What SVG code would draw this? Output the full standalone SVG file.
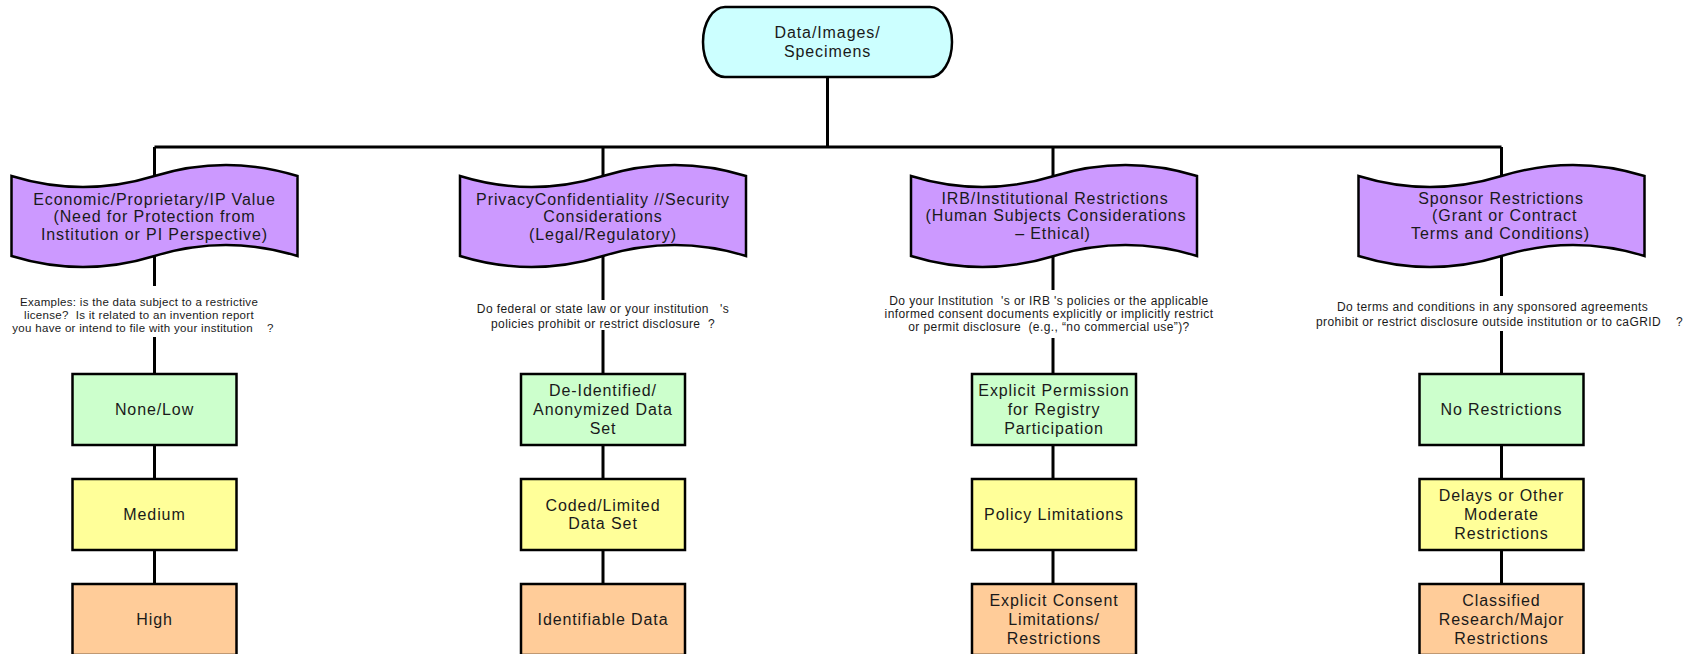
<svg xmlns="http://www.w3.org/2000/svg" width="1697" height="654" viewBox="0 0 1697 654">
<defs>
<style>
.ln{fill:none;stroke:#000;stroke-width:3}
.sh{stroke:#000;stroke-width:2.5}
.term{fill:#ccffff}
.ban{fill:#cc99ff}
.g{fill:#ccffcc}
.y{fill:#ffff99}
.o{fill:#ffcc99}
text{font-family:"Liberation Sans",Arial,sans-serif;fill:#1a1a1a;text-anchor:middle;white-space:pre}
.t{font-size:16px;letter-spacing:0.9px}
.q{font-size:12px;letter-spacing:0.4px}
.q1{font-size:11.5px;letter-spacing:0.3px}
</style>
<path id="banner" d="M0,0 C47.67,14.67 95.33,14.67 143,0 C190.67,-14.67 238.33,-14.67 286,0 L286,80 C238.33,65.33 190.67,65.33 143,80 C95.33,94.67 47.67,94.67 0,80 Z"/>
</defs>
<rect width="1697" height="654" fill="#fff"/>
<g id="connectors" class="ln">
<path d="M827.5,77 V147 M154.5,147 H1501.5"/>
<path d="M154.5,147 V286 M154.5,337 V374 M154.5,445 V479 M154.5,550 V584"/>
<path d="M603,147 V300 M603,330 V374 M603,445 V479 M603,550 V584"/>
<path d="M1053,147 V290 M1053,338 V374 M1053,445 V479 M1053,550 V584"/>
<path d="M1501.5,147 V296 M1501.5,331 V374 M1501.5,445 V479 M1501.5,550 V584"/>
</g>
<g id="root">
<path class="term sh" d="M725,7 H930 A22,35 0 0 1 930,77 H725 A22,35 0 0 1 725,7 Z"/>
<text class="t" x="827.5" y="38.3">Data/Images/</text>
<text class="t" x="827.5" y="56.7">Specimens</text>
</g>
<g id="economic">
<use href="#banner" class="ban sh" transform="translate(11.5,176)"/>
<text class="t" x="154.5" y="204.5">Economic/Proprietary/IP Value</text>
<text class="t" x="154.5" y="222.3">(Need for Protection from</text>
<text class="t" x="154.5" y="240.1">Institution or PI Perspective)</text>
</g>
<g id="privacy">
<use href="#banner" class="ban sh" transform="translate(460,176)"/>
<text class="t" x="603" y="204.5">PrivacyConfidentiality //Security</text>
<text class="t" x="603" y="222.3">Considerations</text>
<text class="t" x="603" y="240.1">(Legal/Regulatory)</text>
</g>
<g id="irb">
<use href="#banner" class="ban sh" transform="translate(911,176)"/>
<text class="t" x="1055" y="203.5">IRB/Institutional Restrictions</text>
<text class="t" x="1056" y="221.3">(Human Subjects Considerations</text>
<text class="t" x="1053" y="239.1">– Ethical)</text>
</g>
<g id="sponsor">
<use href="#banner" class="ban sh" transform="translate(1358.5,176)"/>
<text class="t" x="1501" y="203.5">Sponsor Restrictions</text>
<text class="t" x="1502" y="221.3"> (Grant or Contract</text>
<text class="t" x="1500.5" y="239.1">Terms and Conditions)</text>
</g>
<g id="q-economic">
<text class="q1" x="139" y="306">Examples: is the data subject to a restrictive</text>
<text class="q1" x="139" y="319">license?  Is it related to an invention report</text>
<text class="q1" x="143" y="331.7">you have or intend to file with your institution    ?</text>
</g>
<g id="q-privacy">
<text class="q" x="603" y="312.5">Do federal or state law or your institution   's</text>
<text class="q" x="603" y="328">policies prohibit or restrict disclosure  ?</text>
</g>
<g id="q-irb">
<text class="q" x="1049" y="304.7">Do your Institution  's or IRB 's policies or the applicable</text>
<text class="q" x="1049" y="318">informed consent documents explicitly or implicitly restrict</text>
<text class="q" x="1049" y="331.3">or permit disclosure  (e.g., “no commercial use”)?</text>
</g>
<g id="q-sponsor">
<text class="q" x="1492.5" y="311.2">Do terms and conditions in any sponsored agreements</text>
<text class="q" x="1499.5" y="326.2">prohibit or restrict disclosure outside institution or to caGRID    ?</text>
</g>
<g id="none-low">
<rect class="g sh" x="72.5" y="374" width="164" height="71"/>
<text class="t" x="154.5" y="415">None/Low</text>
</g>
<g id="medium">
<rect class="y sh" x="72.5" y="479" width="164" height="71"/>
<text class="t" x="154.5" y="520">Medium</text>
</g>
<g id="high">
<rect class="o sh" x="72.5" y="584" width="164" height="71"/>
<text class="t" x="154.5" y="625">High</text>
</g>
<g id="deidentified">
<rect class="g sh" x="521" y="374" width="164" height="71"/>
<text class="t" x="603" y="396.2">De-Identified/</text>
<text class="t" x="603" y="415">Anonymized Data</text>
<text class="t" x="603" y="433.8">Set</text>
</g>
<g id="coded">
<rect class="y sh" x="521" y="479" width="164" height="71"/>
<text class="t" x="603" y="510.6">Coded/Limited</text>
<text class="t" x="603" y="529.4">Data Set</text>
</g>
<g id="identifiable">
<rect class="o sh" x="521" y="584" width="164" height="71"/>
<text class="t" x="603" y="625">Identifiable Data</text>
</g>
<g id="explicit-permission">
<rect class="g sh" x="972" y="374" width="164" height="71"/>
<text class="t" x="1054" y="396.2">Explicit Permission</text>
<text class="t" x="1054" y="415">for Registry</text>
<text class="t" x="1054" y="433.8">Participation</text>
</g>
<g id="policy">
<rect class="y sh" x="972" y="479" width="164" height="71"/>
<text class="t" x="1054" y="520">Policy Limitations</text>
</g>
<g id="explicit-consent">
<rect class="o sh" x="972" y="584" width="164" height="71"/>
<text class="t" x="1054" y="606.2">Explicit Consent</text>
<text class="t" x="1054" y="625">Limitations/</text>
<text class="t" x="1054" y="643.8">Restrictions</text>
</g>
<g id="no-restrictions">
<rect class="g sh" x="1419.5" y="374" width="164" height="71"/>
<text class="t" x="1501.5" y="415">No Restrictions</text>
</g>
<g id="delays">
<rect class="y sh" x="1419.5" y="479" width="164" height="71"/>
<text class="t" x="1501.5" y="501.2">Delays or Other</text>
<text class="t" x="1501.5" y="520">Moderate</text>
<text class="t" x="1501.5" y="538.8">Restrictions</text>
</g>
<g id="classified">
<rect class="o sh" x="1419.5" y="584" width="164" height="71"/>
<text class="t" x="1501.5" y="606.2">Classified</text>
<text class="t" x="1501.5" y="625">Research/Major</text>
<text class="t" x="1501.5" y="643.8">Restrictions</text>
</g>
</svg>
